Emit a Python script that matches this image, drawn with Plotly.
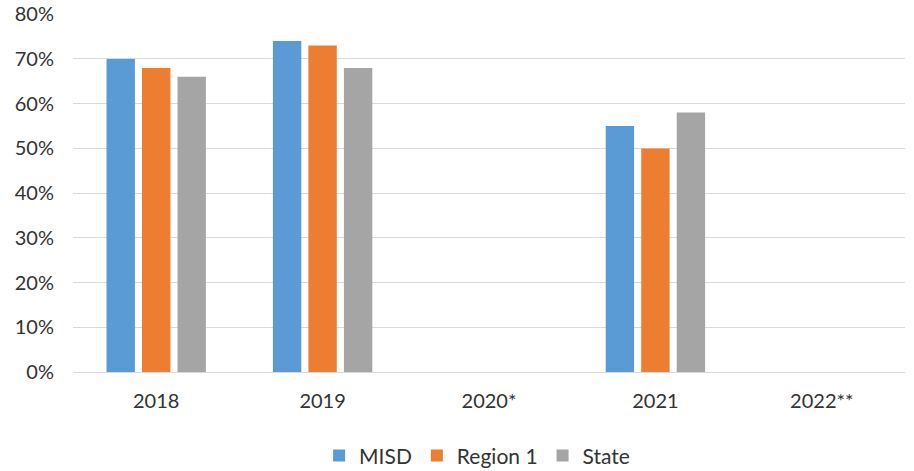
import plotly.graph_objects as go

categories = ["2018", "2019", "2020*", "2021", "2022**"]
misd = [0.70, 0.74, None, 0.55, None]
region1 = [0.68, 0.73, None, 0.50, None]
state = [0.66, 0.68, None, 0.58, None]

series = [("MISD", misd, "#5B9BD5"), ("Region 1", region1, "#ED7D31"), ("State", state, "#A5A5A5")]

fig = go.Figure()
for name, vals, col in series:
    fig.add_trace(go.Bar(x=categories, y=vals, name=name, marker_color=col,
                         marker_line_width=0))

fig.update_layout(
    width=914, height=471,
    margin=dict(l=73, r=9, t=14, b=99, autoexpand=False),
    paper_bgcolor="white", plot_bgcolor="white",
    barmode="group", bargap=0.36, bargroupgap=0.2,
    font=dict(family="Lato, Open Sans, sans-serif", size=20, color="#333333"),
    xaxis=dict(showline=True, linecolor="#D9D9D9", linewidth=1, ticks="",
               ticklabelstandoff=11,
               tickfont=dict(size=20, color="#333333")),
    yaxis=dict(range=[0, 0.8005], dtick=0.1, tickformat=".0%", gridcolor="#D9D9D9",
               gridwidth=1, zeroline=False, ticks="", ticklabelstandoff=18,
               ticklabeloverflow="allow",
               tickfont=dict(size=20, color="#333333")),
    legend=dict(orientation="h", x=0.522, xanchor="center", xref="container",
                y=0.032, yanchor="middle", yref="container",
                font=dict(size=21, color="#333333"), itemwidth=30),
)

fig.write_html("out.html", config={"displayModeBar": False},
               post_script="document.body.style.margin='0';")
